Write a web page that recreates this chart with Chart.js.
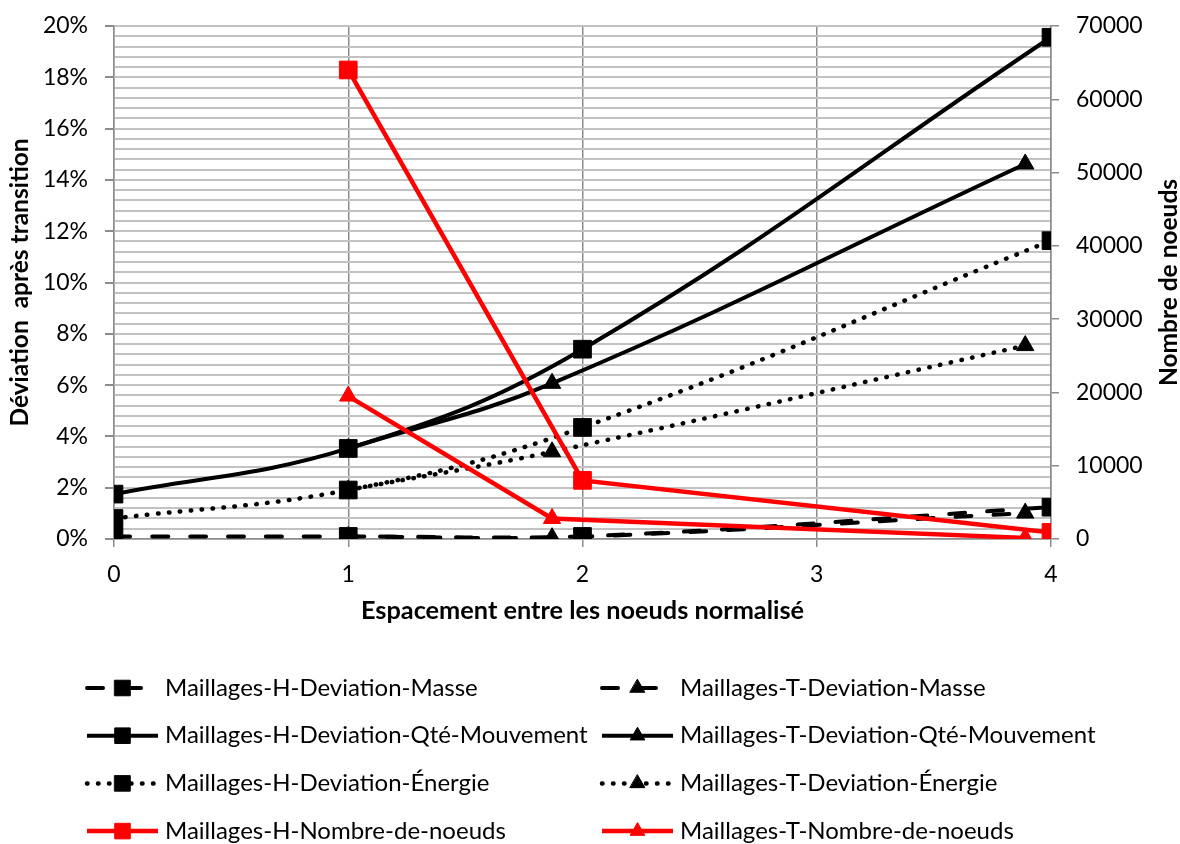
<!DOCTYPE html>
<html lang="fr">
<head>
<meta charset="utf-8">
<title>Déviation après transition</title>
<script src="https://cdn.jsdelivr.net/npm/chart.js@4.4.1/dist/chart.umd.min.js"></script>
<style>
  html, body { margin: 0; padding: 0; background: #fff; }
  #cadre { width: 1180px; height: 844px; }
</style>
</head>
<body>
<div id="cadre"><canvas id="graphique" width="1180" height="844"></canvas></div>
<script>
// Espacement entre les noeuds normalisé
const xMaillagesH = [0, 1, 2, 4];
const xMaillagesT = [1, 1.87, 3.89];
const xNoeudsH = [1, 2, 4];

// Déviations après transition (fractions, affichées en %)
const hMasse = [0.001, 0.001, 0.001, 0.0124];
const tMasse = [0.001, 0.0005, 0.0101];
const hQteMouvement = [0.0175, 0.0353, 0.074, 0.1956];
const tQteMouvement = [0.0353, 0.0607, 0.1462];
const hEnergie = [0.008, 0.0191, 0.0435, 0.1163];
const tEnergie = [0.0191, 0.034, 0.0754];

// Nombre de noeuds (axe de droite)
const hNoeuds = [64000, 8000, 900];
const tNoeuds = [19500, 2800, 150];

// Graduations
const espacementTicks = [0, 1, 2, 3, 4];
const pourcentTicks = [0, 2, 4, 6, 8, 10, 12, 14, 16, 18, 20];
const noeudsTicks = [0, 10000, 20000, 30000, 40000, 50000, 60000, 70000];

const titreX = 'Espacement entre les noeuds normalisé';
const titreGauche = 'Déviation  après transition';
const titreDroite = 'Nombre de noeuds';

const POLICE = 'Lato';
const NOIR = '#000000';
const ROUGE = '#ff0000';
const GRIS_AXE = '#8c8c8c';
const GRIS_GRILLE = '#c2c2c2';

Chart.defaults.font.family = POLICE;
Chart.defaults.color = NOIR;

function serie(label, xs, ys, style) {
  return Object.assign({
    label: label,
    data: xs.map((x, i) => ({ x: x, y: ys[i] })),
    pointBorderWidth: 1,
    pointHoverBorderWidth: 1,
    fill: false
  }, style);
}

const styleMasse = { borderColor: NOIR, backgroundColor: NOIR, borderWidth: 4, borderDash: [16, 22], borderCapStyle: 'round', tension: 0.4, yAxisID: 'y', order: 1 };
const styleQte = { borderColor: NOIR, backgroundColor: NOIR, borderWidth: 4, tension: 0.4, yAxisID: 'y', order: 1 };
const styleEnergie = { borderColor: NOIR, backgroundColor: NOIR, borderWidth: 4.5, borderDash: [0.5, 10.5], borderCapStyle: 'round', tension: 0.4, yAxisID: 'y', order: 1 };
const styleNoeuds = { borderColor: ROUGE, backgroundColor: ROUGE, borderWidth: 4.5, tension: 0, yAxisID: 'y1', order: 0 };

const carre = { pointStyle: 'rect', pointRadius: 12.5, pointHoverRadius: 12.5 };
const triangle = { pointStyle: 'triangle', pointRadius: 10, pointHoverRadius: 10 };

// ordre de la légende : ligne par ligne, H à gauche, T à droite
const series = [
  serie('Maillages-H-Deviation-Masse', xMaillagesH, hMasse, Object.assign({}, styleMasse, carre)),
  serie('Maillages-T-Deviation-Masse', xMaillagesT, tMasse, Object.assign({}, styleMasse, triangle)),
  serie('Maillages-H-Deviation-Qté-Mouvement', xMaillagesH, hQteMouvement, Object.assign({}, styleQte, carre)),
  serie('Maillages-T-Deviation-Qté-Mouvement', xMaillagesT, tQteMouvement, Object.assign({}, styleQte, triangle)),
  serie('Maillages-H-Deviation-Énergie', xMaillagesH, hEnergie, Object.assign({}, styleEnergie, carre)),
  serie('Maillages-T-Deviation-Énergie', xMaillagesT, tEnergie, Object.assign({}, styleEnergie, triangle)),
  serie('Maillages-H-Nombre-de-noeuds', xNoeudsH, hNoeuds, Object.assign({}, styleNoeuds, carre)),
  serie('Maillages-T-Nombre-de-noeuds', xMaillagesT, tNoeuds, Object.assign({}, styleNoeuds, triangle))
];

// grille secondaire : 4 lignes entre deux graduations en %
function ticksPourcent() {
  const ticks = [];
  for (let i = 0; i < pourcentTicks.length; i++) {
    ticks.push({ value: pourcentTicks[i] / 100, major: true });
    if (i < pourcentTicks.length - 1) {
      const pas = (pourcentTicks[i + 1] - pourcentTicks[i]) / 5;
      for (let k = 1; k < 5; k++) {
        ticks.push({ value: (pourcentTicks[i] + k * pas) / 100, major: false });
      }
    }
  }
  return ticks;
}

// largeur fixe des axes verticaux, sans marge ajoutée par les étiquettes
function axeVertical(largeur) {
  return s => {
    s.width = largeur;
    s.paddingTop = 0;
    s.paddingBottom = 0;
  };
}

// titre de droite (lu de bas en haut) et légende sur deux colonnes
const legendeBas = {
  id: 'legendeBas',
  afterDraw(chart) {
    const ctx = chart.ctx;
    const zone = chart.chartArea;
    ctx.save();
    ctx.fillStyle = NOIR;
    ctx.font = 'bold 24.5px ' + POLICE;
    ctx.textAlign = 'center';
    ctx.textBaseline = 'middle';
    ctx.translate(chart.width - 11, (zone.top + zone.bottom) / 2);
    ctx.rotate(-Math.PI / 2);
    ctx.fillText(titreDroite, 0, 0);
    ctx.restore();

    const colonnes = [87, 602];
    const yPremiere = 688;
    const interligne = 47.7;
    const longueur = 71;
    chart.data.datasets.forEach((ds, i) => {
      const x0 = colonnes[i % 2];
      const y = yPremiere + Math.floor(i / 2) * interligne;
      ctx.save();
      ctx.strokeStyle = ds.borderColor;
      ctx.lineWidth = ds.borderWidth;
      ctx.lineCap = ds.borderCapStyle || 'butt';
      ctx.setLineDash(ds.borderDash || []);
      ctx.beginPath();
      ctx.moveTo(x0, y);
      ctx.lineTo(x0 + longueur, y);
      ctx.stroke();
      ctx.setLineDash([]);
      ctx.fillStyle = ds.backgroundColor;
      ctx.strokeStyle = ds.borderColor;
      ctx.lineWidth = 1;
      const rayon = ds.pointStyle === 'rect' ? 11 : 8.5;
      Chart.helpers.drawPoint(ctx, { pointStyle: ds.pointStyle, rotation: 0, borderWidth: 1, radius: rayon }, x0 + longueur / 2, y);
      ctx.fillStyle = NOIR;
      ctx.font = '24px ' + POLICE;
      ctx.textAlign = 'left';
      ctx.textBaseline = 'middle';
      ctx.fillText(ds.label, x0 + longueur + 7, y);
      ctx.restore();
    });
  }
};

const ctx = document.getElementById('graphique').getContext('2d');
const graphique = new Chart(ctx, {
  type: 'line',
  data: { datasets: series },
  plugins: [legendeBas],
  options: {
    responsive: false,
    animation: false,
    events: [],
    layout: { padding: { top: 26, left: 0, right: 0, bottom: 218 } },
    plugins: {
      legend: { display: false },
      tooltip: { enabled: false }
    },
    scales: {
      x: {
        type: 'linear',
        min: 0,
        max: 4,
        afterBuildTicks: s => { s.ticks = espacementTicks.map(v => ({ value: v })); },
        afterFit: s => { s.height = 87; },
        grid: { color: GRIS_AXE, lineWidth: 1.5, tickLength: 8, tickColor: GRIS_AXE },
        border: { color: GRIS_AXE, width: 1.5 },
        ticks: { font: { size: 23 }, padding: 14, maxRotation: 0 },
        title: { display: true, text: titreX, font: { size: 25.3, weight: 'bold' }, padding: { top: 4, bottom: 0 } }
      },
      y: {
        type: 'linear',
        position: 'left',
        min: 0,
        max: 0.2,
        afterBuildTicks: s => { s.ticks = ticksPourcent(); },
        afterFit: axeVertical(114),
        grid: {
          color: GRIS_GRILLE,
          lineWidth: 2,
          tickLength: 9,
          tickColor: c => (c.tick && c.tick.major ? GRIS_AXE : 'rgba(0,0,0,0)')
        },
        border: { color: GRIS_AXE, width: 1.5 },
        ticks: {
          font: { size: 23 },
          padding: 17,
          autoSkip: false,
          callback: v => {
            const p = Math.round(v * 1000) / 10;
            return pourcentTicks.includes(p) ? p + '%' : '';
          }
        },
        title: { display: true, text: titreGauche, font: { size: 24.5, weight: 'bold' }, padding: { top: 5, bottom: 0 } }
      },
      y1: {
        type: 'linear',
        position: 'right',
        min: 0,
        max: 70000,
        afterBuildTicks: s => { s.ticks = noeudsTicks.map(v => ({ value: v })); },
        afterFit: axeVertical(129),
        grid: { drawOnChartArea: false, tickLength: 8, color: GRIS_AXE, lineWidth: 1.5 },
        border: { color: GRIS_AXE, width: 1.5 },
        ticks: { font: { size: 23 }, padding: 17, autoSkip: false, callback: v => String(v) }
      }
    }
  }
});
</script>
</body>
</html>
